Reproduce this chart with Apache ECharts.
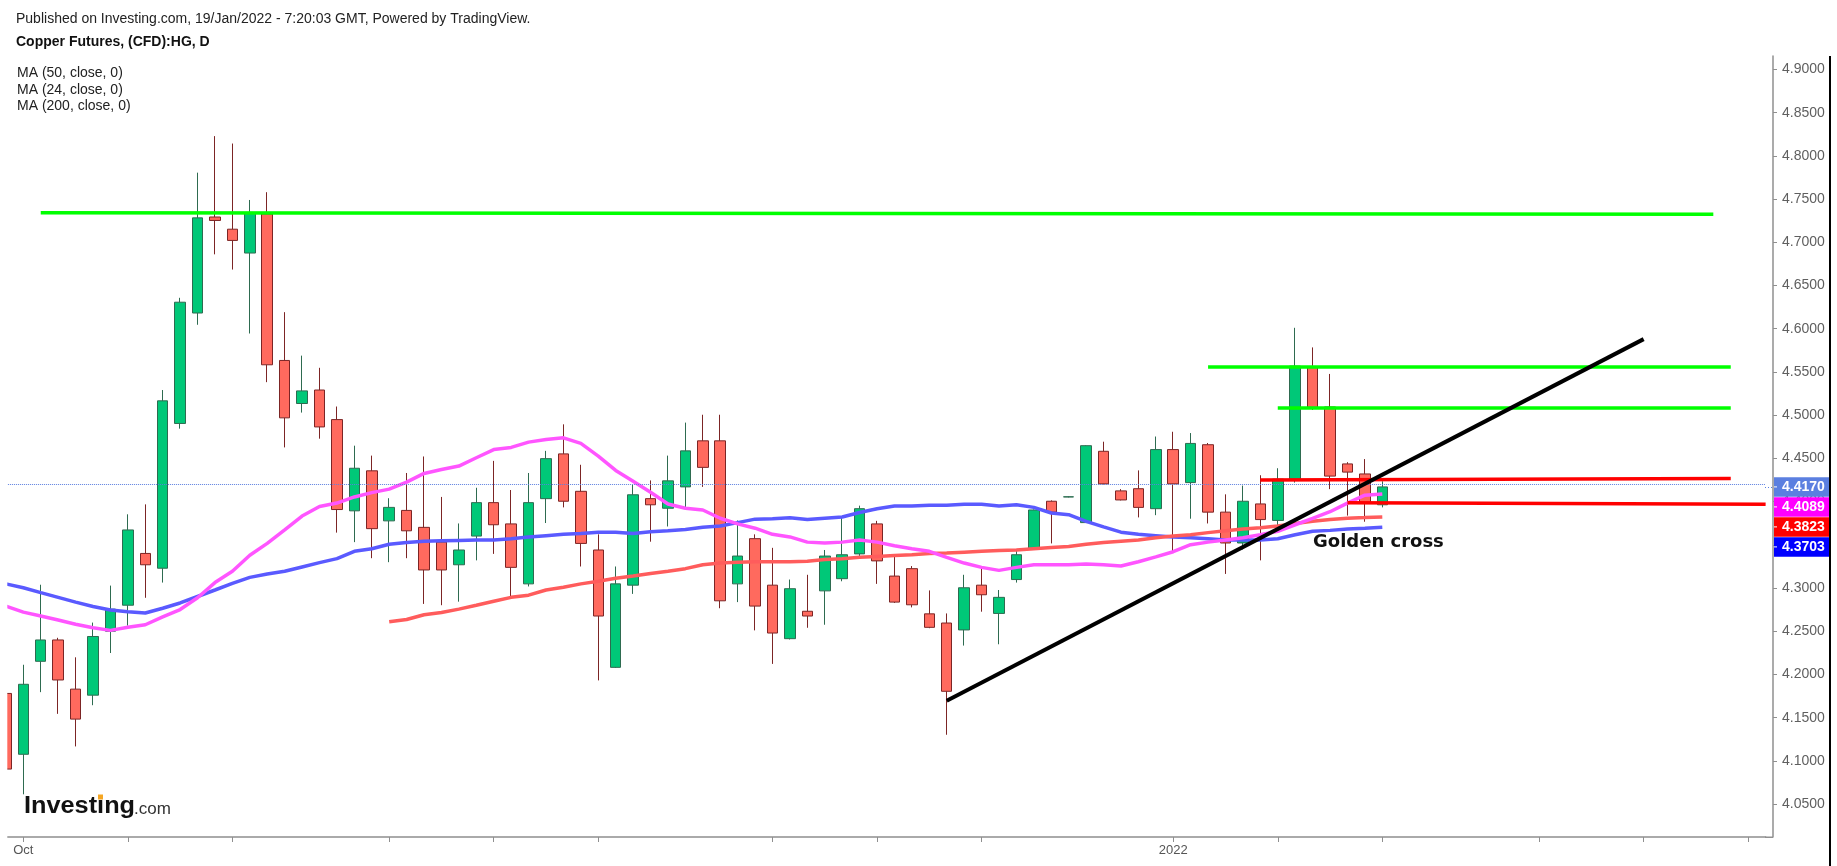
<!DOCTYPE html>
<html><head><meta charset="utf-8">
<script src="https://cdn.jsdelivr.net/npm/echarts@6/dist/echarts.min.js"></script>
<style>html,body{margin:0;padding:0;background:#fff}#c{width:1837px;height:866px}</style>
</head><body><div id="c"></div>
<script>
// ---- data ----
const categories = Array.from({length: 102}, (_, i) => 'D' + i);
const tickIndices = [1, 7, 13, 22, 28, 34, 44, 50, 56, 67, 73, 79, 88, 94, 100];
const labelIndices = [1, 67];
const labelTexts = ['Oct', '2022'];

const opens = [4.1780,4.1076,4.2152,4.2399,4.1830,4.1760,4.2500,4.2801,4.3400,4.3229,
4.4904,4.6182,4.7293,4.7152,4.6876,4.7329,4.5633,4.5135,4.5291,4.4949,
4.3893,4.4356,4.3777,4.3898,4.3702,4.3531,4.3269,4.3601,4.3988,4.3742,
4.3048,4.4034,4.4552,4.4119,4.3440,4.2082,4.3033,4.4034,4.3923,4.4170,
4.4703,4.4703,4.3048,4.3571,4.3033,4.2414,4.2731,4.2967,4.3108,4.3395,
4.3742,4.3138,4.3224,4.2701,4.2595,4.2515,4.3033,4.2706,4.3098,4.3455,
4.4004,4.4054,4.3757,4.4582,4.4124,4.4149,4.3918,4.4602,4.4220,4.4658,
4.3878,4.3521,4.3973,4.3782,4.4260,4.5553,4.5095,4.4436,4.4320,4.3963];
const closes = [4.0905,4.1886,4.2399,4.1936,4.1483,4.2439,4.2756,4.3672,4.3269,4.5166,
4.6307,4.7283,4.7253,4.7022,4.7339,4.5583,4.4969,4.5281,4.4864,4.3908,
4.4386,4.3687,4.3933,4.3662,4.3209,4.3209,4.3440,4.3988,4.3732,4.3239,
4.3988,4.4497,4.4004,4.3516,4.2676,4.3048,4.4079,4.3963,4.4240,4.4587,
4.4396,4.2852,4.3370,4.2791,4.2479,4.2992,4.2676,4.3370,4.3385,4.3918,
4.3314,4.2837,4.2806,4.2545,4.1805,4.3003,4.2922,4.2892,4.3385,4.3903,
4.3878,4.4055,4.4647,4.4205,4.4019,4.3933,4.4602,4.4205,4.4673,4.3878,
4.3521,4.4004,4.3792,4.4260,4.5568,4.5090,4.4295,4.4341,4.3983,4.4170];
const lows = [4.0850,4.0613,4.1795,4.1544,4.1167,4.1644,4.2248,4.2565,4.2887,4.3063,
4.4844,4.6046,4.6861,4.6685,4.5945,4.5382,4.4627,4.5030,4.4728,4.3641,
4.3531,4.3345,4.3299,4.3345,4.2816,4.2801,4.2842,4.3320,4.3395,4.2877,
4.3018,4.3752,4.3933,4.3249,4.1931,4.2075,4.2932,4.3536,4.3712,4.3933,
4.4170,4.2766,4.2837,4.2510,4.2122,4.2405,4.2540,4.2575,4.3078,4.3340,
4.3048,4.2827,4.2776,4.2535,4.1302,4.2334,4.2726,4.2349,4.3063,4.3450,
4.3516,4.4049,4.3752,4.4200,4.4014,4.3817,4.3843,4.3420,4.3802,4.3747,
4.3163,4.3445,4.3320,4.3682,4.4220,4.5060,4.4144,4.3838,4.3767,4.3933];
const highs = [4.1810,4.2112,4.3038,4.2424,4.2198,4.2600,4.3028,4.3853,4.3968,4.5291,
4.6358,4.7806,4.8229,4.8143,4.7490,4.7580,4.6192,4.5689,4.5548,4.5100,
4.4647,4.4532,4.4039,4.4331,4.4522,4.4054,4.3747,4.4160,4.4471,4.4134,
4.4331,4.4587,4.4894,4.4426,4.3621,4.3249,4.4195,4.4245,4.4532,4.4914,
4.5005,4.5005,4.3782,4.3621,4.3465,4.3098,4.3153,4.3440,4.3833,4.3953,
4.3777,4.3390,4.3254,4.2972,4.2706,4.3153,4.3244,4.2977,4.3440,4.3908,
4.4014,4.4059,4.4652,4.4693,4.4144,4.4361,4.4753,4.4808,4.4793,4.4678,
4.4084,4.4185,4.4305,4.4386,4.6011,4.5784,4.5477,4.4456,4.4492,4.4235];

const maBlue = [4.3048,4.3003,4.2947,4.2892,4.2837,4.2786,4.2746,4.2726,4.2711,4.2766,
4.2827,4.2902,4.2977,4.3053,4.3123,4.3163,4.3194,4.3244,4.3294,4.3340,
4.3425,4.3455,4.3506,4.3526,4.3541,4.3546,4.3551,4.3556,4.3556,4.3571,
4.3591,4.3606,4.3621,4.3631,4.3646,4.3646,4.3631,4.3651,4.3662,4.3677,
4.3702,4.3717,4.3757,4.3797,4.3802,4.3812,4.3792,4.3807,4.3822,4.3873,
4.3918,4.3948,4.3948,4.3958,4.3958,4.3968,4.3968,4.3948,4.3963,4.3933,
4.3868,4.3848,4.3772,4.3707,4.3646,4.3621,4.3606,4.3591,4.3581,4.3571,
4.3556,4.3556,4.3556,4.3571,4.3616,4.3656,4.3667,4.3682,4.3692,4.3703];
const maMagenta = [4.2791,4.2721,4.2676,4.2630,4.2580,4.2540,4.2510,4.2545,4.2575,4.2666,
4.2751,4.2887,4.3063,4.3194,4.3380,4.3516,4.3672,4.3833,4.3943,4.3983,
4.4054,4.4104,4.4144,4.4225,4.4326,4.4371,4.4411,4.4507,4.4602,4.4627,
4.4688,4.4718,4.4738,4.4673,4.4527,4.4361,4.4235,4.4109,4.3973,4.3923,
4.3903,4.3807,4.3742,4.3692,4.3621,4.3591,4.3531,4.3521,4.3531,4.3556,
4.3531,4.3490,4.3455,4.3425,4.3355,4.3289,4.3239,4.3204,4.3239,4.3269,
4.3269,4.3269,4.3279,4.3269,4.3254,4.3304,4.3360,4.3420,4.3501,4.3531,
4.3556,4.3581,4.3616,4.3657,4.3732,4.3807,4.3883,4.3983,4.4074,4.4089];
const maRed = [null,null,null,null,null,null,null,null,null,null,
null,null,null,null,null,null,null,null,null,null,
null,null,4.2610,4.2635,4.2691,4.2716,4.2756,4.2801,4.2847,4.2892,
4.2917,4.2977,4.3008,4.3048,4.3078,4.3113,4.3138,4.3169,4.3194,4.3224,
4.3269,4.3289,4.3299,4.3304,4.3304,4.3304,4.3309,4.3330,4.3340,4.3355,
4.3365,4.3375,4.3385,4.3400,4.3405,4.3415,4.3425,4.3435,4.3440,4.3455,
4.3470,4.3480,4.3506,4.3526,4.3541,4.3556,4.3581,4.3601,4.3616,4.3641,
4.3662,4.3682,4.3697,4.3717,4.3747,4.3772,4.3792,4.3808,4.3815,4.3823];

// drawn lines: [index, price] end points
const resistanceTop = [[2, 4.7342], [98, 4.7325]];
const resistanceMid = [[69, 4.5555], [99, 4.5555]];
const resistanceLow = [[73, 4.5090], [99, 4.5090]];
const supportUpper = [[72, 4.4251], [99, 4.4267]];
const supportLower = [[77, 4.3988], [101, 4.3969]];
const trendLine = [[54, 4.1695], [94, 4.5880]];

const yMin = 4.0119, yMax = 4.9156;

// ---- chart ----
const ohlc = opens.map((o, i) => [o, closes[i], lows[i], highs[i]]);
const FONT = 'Liberation Sans, Arial, sans-serif';
const chart = echarts.init(document.getElementById('c'));

function seg(pts, color, width) {
  return [{coord: pts[0], lineStyle: {color: color, width: width, type: 'solid'}}, {coord: pts[1]}];
}

const AXIS_C = '#8f8f8f';
chart.setOption({
  animation: false,
  backgroundColor: '#fff',
  grid: {left: 5.9, right: 71.4, top: 56, bottom: 29, containLabel: false},
  xAxis: {
    type: 'category', data: categories, boundaryGap: false,
    axisLine: {lineStyle: {color: AXIS_C, width: 1.5}},
    axisTick: {length: 5, interval: (i) => tickIndices.includes(i), lineStyle: {color: AXIS_C, width: 1}},
    axisLabel: {
      interval: (i) => labelIndices.includes(i),
      formatter: (v, i) => { const k = labelIndices.indexOf(i); return k >= 0 ? labelTexts[k] : ''; },
      color: '#555', fontSize: 13, fontFamily: FONT, margin: 7
    },
    splitLine: {show: false}
  },
  yAxis: {
    type: 'value', position: 'right', offset: 7.4, min: yMin, max: yMax, scale: true,
    splitNumber: 18, minInterval: 0.05, maxInterval: 0.05,
    axisLine: {show: true, lineStyle: {color: AXIS_C, width: 1.5}},
    axisTick: {show: true, length: 4, lineStyle: {color: AXIS_C}},
    axisLabel: {formatter: (v) => v.toFixed(4), color: '#5f5f5f', fontSize: 14, fontFamily: FONT, margin: 9,
      showMinLabel: false, showMaxLabel: false},
    splitLine: {show: false}
  },
  series: [
    {
      type: 'candlestick', name: 'HG', data: ohlc, barWidth: 11, z: 2,
      itemStyle: {color: '#00c878', color0: '#ff6a5e', borderColor: '#2e6b50', borderColor0: '#7c2525', borderWidth: 1},
      markLine: {
        silent: true, symbol: 'none', animation: false,
        label: {show: false},
        data: [{yAxis: closes[closes.length - 1], lineStyle: {color: '#5b7fe0', type: 'dotted', width: 1}}]
      }
    },
    {type: 'line', name: 'MA blue', data: maBlue, showSymbol: false, z: 3, silent: true,
      lineStyle: {color: '#5a5aff', width: 3.5}},
    {type: 'line', name: 'MA red', data: maRed, showSymbol: false, z: 3, silent: true,
      lineStyle: {color: '#ff5c5c', width: 3.5}},
    {type: 'line', name: 'MA magenta', data: maMagenta, showSymbol: false, z: 3, silent: true,
      lineStyle: {color: '#ff55ff', width: 3.5}},
    {
      type: 'line', name: 'drawings', data: [], z: 5, silent: true,
      markLine: {
        silent: true, symbol: 'none', animation: false, label: {show: false},
        data: [
          seg(resistanceTop, '#00ff00', 3.5),
          seg(resistanceMid, '#00ff00', 3.5),
          seg(resistanceLow, '#00ff00', 3.5),
          seg(supportUpper, '#ff0000', 3.5),
          seg(supportLower, '#ff0000', 3.5),
          seg(trendLine, '#000000', 4)
        ]
      }
    }
  ]
});

const AX_X = 1773;   // right price axis line
const g = [];
// left mask (plot starts slightly right of the first candle centre)
g.push({type: 'rect', shape: {x: 0, y: 50, width: 7.3, height: 790}, style: {fill: '#fff'}, z: 20});
// join x axis line to the offset price axis, extend dotted last-price line
const yLast = chart.convertToPixel({yAxisIndex: 0}, closes[closes.length - 1]);
g.push({type: 'line', shape: {x1: 1765, y1: 837.25, x2: AX_X, y2: 837.25}, style: {stroke: AXIS_C, lineWidth: 1.5}, z: 5});
g.push({type: 'line', shape: {x1: 1765, y1: Math.round(yLast) + 0.5, x2: AX_X, y2: Math.round(yLast) + 0.5}, style: {stroke: '#5b7fe0', lineWidth: 1, lineDash: [1, 2]}, z: 5});

// price tags on the right axis (stacked like the reference)
const lastVals = [
  {v: closes[closes.length - 1], bg: '#5b7fe0'},
  {v: maMagenta[maMagenta.length - 1], bg: '#ff00ff'},
  {v: maRed[maRed.length - 1], bg: '#ff0000'},
  {v: maBlue[maBlue.length - 1], bg: '#0000ff'}
];
let prevY = -1e9;
lastVals.forEach((t) => {
  let y = chart.convertToPixel({yAxisIndex: 0}, t.v);
  y = Math.max(y, prevY + 20);
  prevY = y;
  g.push({type: 'rect', shape: {x: AX_X + 1, y: y - 9.7, width: 55, height: 19.5}, style: {fill: t.bg}, z: 10});
  g.push({type: 'line', shape: {x1: AX_X + 1, y1: y, x2: AX_X + 4, y2: y}, style: {stroke: '#fff', lineWidth: 1}, z: 11});
  g.push({type: 'text', x: 1782, y: y, z: 11,
    style: {text: t.v.toFixed(4), fill: '#fff', font: 'bold 14px ' + FONT, textVerticalAlign: 'middle'}});
});

// header texts
g.push({type: 'text', x: 16, y: 19, style: {text: 'Published on Investing.com, 19/Jan/2022 - 7:20:03 GMT, Powered by TradingView.', fill: '#222', font: '14px ' + FONT, textVerticalAlign: 'middle'}});
g.push({type: 'text', x: 16, y: 42.5, style: {text: 'Copper Futures, (CFD):HG, D', fill: '#111', font: 'bold 14px ' + FONT, textVerticalAlign: 'middle'}});
['MA (50, close, 0)', 'MA (24, close, 0)', 'MA (200, close, 0)'].forEach((s, i) => {
  g.push({type: 'text', x: 17, y: 73 + i * 16.8, style: {text: s, fill: '#222', font: '14px ' + FONT, textVerticalAlign: 'middle'}});
});
// annotation
g.push({type: 'text', x: 1313, y: 542, z: 12, style: {text: 'Golden cross', fill: '#111', font: 'bold 18px DejaVu Sans, sans-serif', textVerticalAlign: 'middle'}});
// logo
g.push({type: 'text', x: 24, y: 807, scaleX: 1.1, style: {text: 'Investing', fill: '#111', font: 'bold 23px ' + FONT, textVerticalAlign: 'middle'}});
g.push({type: 'text', x: 134, y: 809.5, style: {text: '.com', fill: '#333', font: '17px ' + FONT, textVerticalAlign: 'middle'}});
g.push({type: 'rect', shape: {x: 98, y: 794.5, width: 5, height: 5}, style: {fill: '#f5a623'}});
// right frame border
g.push({type: 'line', shape: {x1: 1830, y1: 56, x2: 1830, y2: 866}, style: {stroke: '#000', lineWidth: 2}});

chart.setOption({graphic: g});
</script>
</body></html>
